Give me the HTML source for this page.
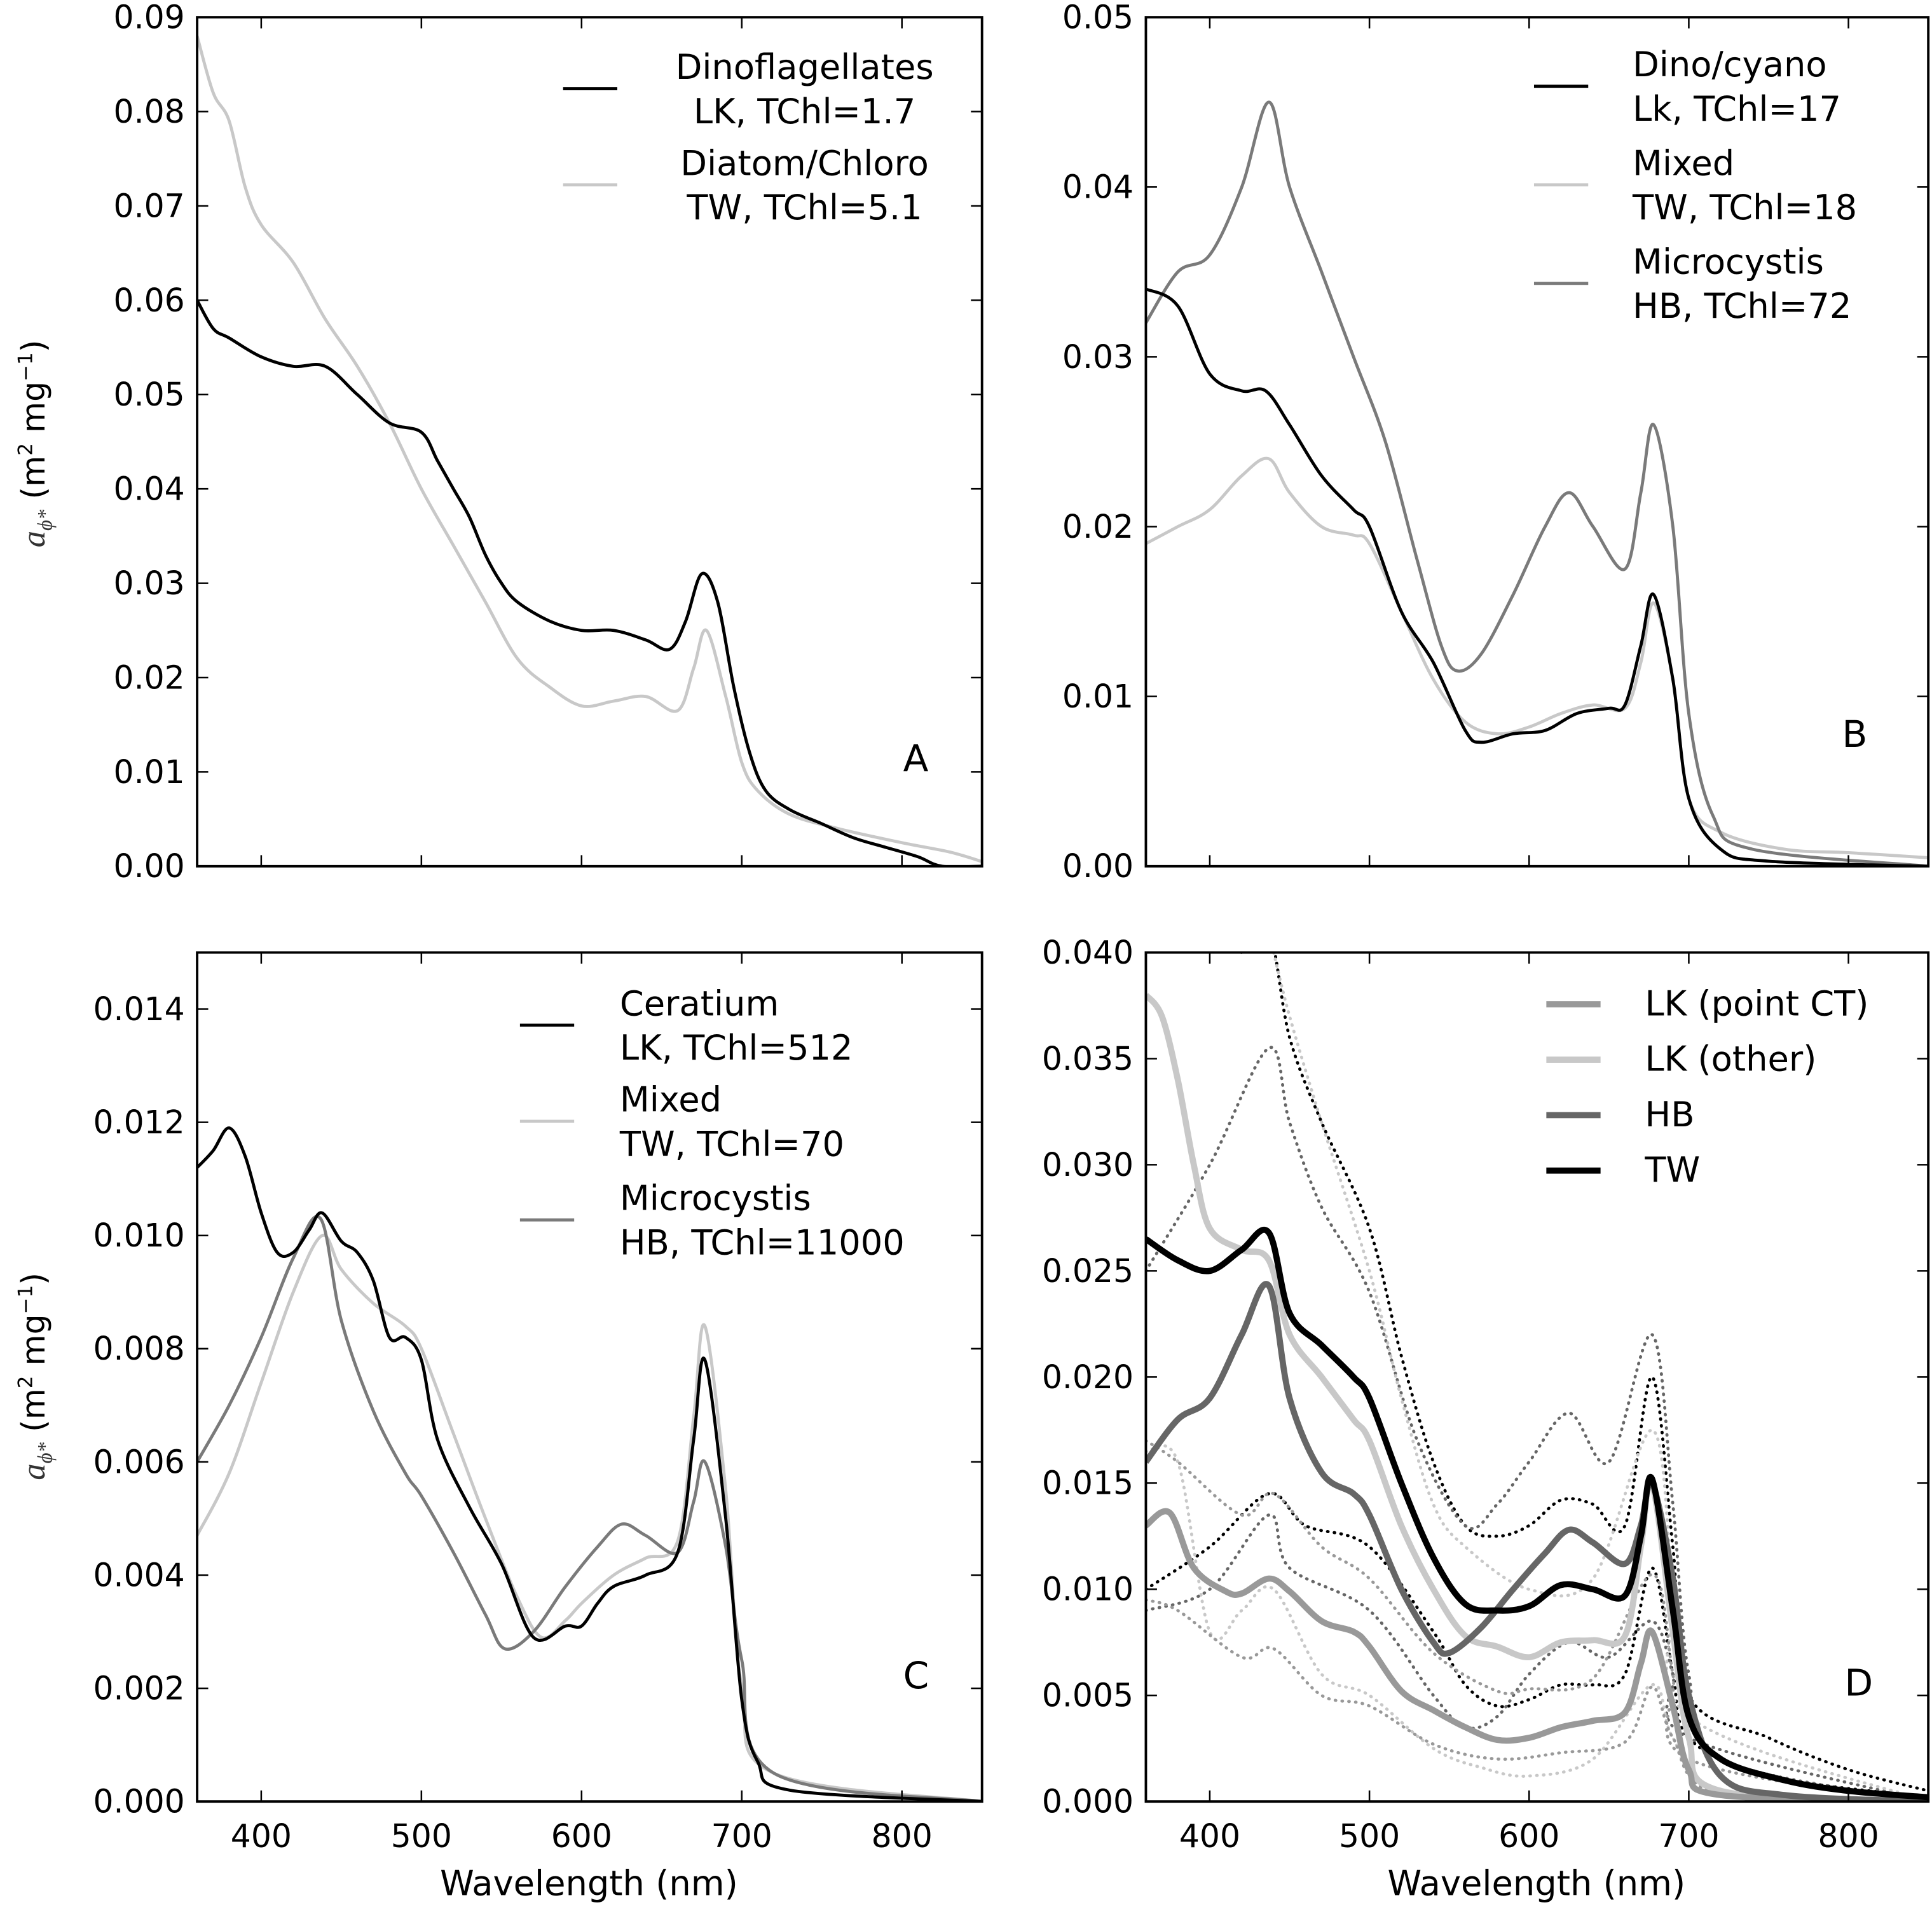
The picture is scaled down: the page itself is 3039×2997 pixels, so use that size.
<!DOCTYPE html>
<html><head><meta charset="utf-8"><style>
html,body{margin:0;padding:0;background:#fff}
svg{display:block}
text{font-family:"DejaVu Sans","Liberation Sans",sans-serif;fill:#000}
</style></head><body>
<svg id="fig" width="3039" height="2997" viewBox="0 0 1568 1546" preserveAspectRatio="none" xmlns="http://www.w3.org/2000/svg">
<rect width="1568" height="1546" fill="#fff"/>
</svg>
<script>
// ---- Panel A data ----
const wlA1=[360,370,380,400,420,440,460,480,500,510,520,530,540,550,560,580,600,620,640,655,665,675,685,695,705,715,730,750,770,790,810,825,850];
const vA1=[0.060,0.057,0.056,0.054,0.053,0.053,0.050,0.047,0.046,0.043,0.040,0.037,0.033,0.030,0.028,0.026,0.025,0.025,0.024,0.023,0.026,0.031,0.028,0.019,0.012,0.008,0.006,0.0045,0.003,0.002,0.001,0.0,0.0];
const wlA2=[360,370,380,390,400,420,440,460,480,500,520,540,560,580,600,620,640,660,670,678,690,700,710,730,760,800,830,850];
const vA2=[0.088,0.082,0.079,0.072,0.068,0.064,0.058,0.053,0.047,0.040,0.034,0.028,0.022,0.019,0.017,0.0175,0.018,0.0165,0.021,0.025,0.018,0.011,0.008,0.0055,0.004,0.0025,0.0015,0.0005];
// ---- Panel B data ----
const wlB1=[360,380,400,420,435,450,470,490,500,520,540,560,570,590,610,630,650,660,670,678,690,700,720,750,850];
const vB1=[0.034,0.033,0.029,0.028,0.028,0.026,0.023,0.021,0.020,0.015,0.012,0.008,0.0073,0.0078,0.008,0.009,0.0093,0.0095,0.013,0.016,0.011,0.004,0.001,0.0003,0];
const wlB2=[360,380,400,420,437,450,470,490,500,520,540,560,580,600,620,640,660,670,678,690,700,720,760,800,850];
const vB2=[0.019,0.020,0.021,0.023,0.024,0.022,0.020,0.0195,0.019,0.015,0.011,0.0085,0.0078,0.0082,0.009,0.0095,0.0093,0.012,0.0155,0.011,0.004,0.002,0.001,0.0008,0.0005];
const wlB3=[360,380,400,420,437,450,470,490,510,530,545,555,570,590,610,625,640,660,670,678,690,700,715,740,850];
const vB3=[0.032,0.035,0.036,0.040,0.045,0.040,0.035,0.030,0.025,0.018,0.013,0.0115,0.0125,0.016,0.020,0.022,0.020,0.0175,0.022,0.026,0.020,0.009,0.003,0.001,0];
// ---- Panel C data ----
const wlC1=[360,370,380,390,400,410,420,430,438,450,460,470,480,490,500,510,530,550,570,590,600,610,620,640,660,670,677,690,700,710,730,850];
const vC1=[0.0112,0.0115,0.0119,0.0114,0.0104,0.0097,0.0097,0.0101,0.0104,0.0099,0.0097,0.0092,0.0082,0.0082,0.0078,0.0064,0.0052,0.0042,0.0029,0.0031,0.0031,0.0035,0.0038,0.0040,0.0044,0.0064,0.0078,0.0050,0.0018,0.0007,0.0002,0];
const wlC2=[360,380,400,420,438,450,470,490,500,520,540,560,575,590,600,620,640,660,670,677,690,700,720,850];
const vC2=[0.0047,0.0058,0.0074,0.0090,0.0100,0.0094,0.0088,0.0084,0.0080,0.0065,0.0050,0.0036,0.0029,0.0032,0.0035,0.0040,0.0043,0.0046,0.0068,0.0084,0.0055,0.002,0.0005,0];
const wlC3=[360,380,400,420,437,450,470,490,500,520,540,552,570,590,610,625,640,660,670,677,690,700,720,850];
const vC3=[0.0060,0.0070,0.0082,0.0096,0.0103,0.0085,0.0069,0.0058,0.0054,0.0044,0.0033,0.0027,0.0030,0.0038,0.0045,0.0049,0.0047,0.0044,0.0053,0.0060,0.0045,0.0025,0.0005,0];
// ---- Panel D data ----
const wlD1=[360,375,390,410,420,437,450,470,490,500,520,540,560,580,600,620,640,660,670,677,690,700,720,850];
const vD1=[0.013,0.0136,0.011,0.0099,0.0098,0.0105,0.0099,0.0085,0.0080,0.0073,0.0052,0.0043,0.0035,0.0029,0.0030,0.0035,0.0038,0.0042,0.0065,0.0080,0.0045,0.0015,0.0003,0];
const wlD2=[360,370,380,390,400,420,437,450,470,490,500,520,540,560,580,600,620,640,660,670,677,690,700,720,850];
const vD2=[0.038,0.037,0.034,0.030,0.027,0.026,0.0255,0.022,0.020,0.018,0.017,0.013,0.010,0.0078,0.0073,0.0068,0.0075,0.0076,0.0078,0.012,0.015,0.008,0.003,0.0005,0];
const wlD3=[360,380,400,420,437,450,470,490,500,520,540,550,570,590,610,625,640,660,670,677,690,700,720,760,850];
const vD3=[0.016,0.018,0.019,0.022,0.0243,0.019,0.0155,0.0145,0.0135,0.010,0.0075,0.0070,0.0082,0.0100,0.0117,0.0128,0.0122,0.0112,0.0130,0.015,0.0105,0.005,0.0012,0.0003,0];
const wlD4=[360,380,400,420,437,450,470,490,500,520,540,560,580,600,620,640,660,670,677,690,700,720,760,800,850];
const vD4=[0.0265,0.0255,0.025,0.026,0.0268,0.023,0.0215,0.020,0.019,0.015,0.0115,0.0093,0.0090,0.0092,0.0102,0.0100,0.0097,0.0125,0.0152,0.009,0.004,0.002,0.001,0.0005,0.0002];
// dotted envelopes
const wlD4u=[380,390,420,437,450,470,500,520,540,560,580,600,620,640,660,677,690,700,750,800,850];
const vD4u=[0.0405,0.042,0.040,0.041,0.036,0.032,0.027,0.021,0.016,0.013,0.0125,0.013,0.0142,0.014,0.013,0.020,0.012,0.005,0.003,0.0015,0.0005];
const wlD4l=[360,400,437,460,500,540,560,580,600,620,640,660,677,690,700,750,850];
const vD4l=[0.010,0.012,0.0145,0.013,0.012,0.008,0.0055,0.0045,0.0048,0.0055,0.0055,0.006,0.011,0.006,0.003,0.0012,0.0002];
const wlD3u=[360,400,437,450,470,500,530,560,580,600,625,650,677,690,700,720,850];
const vD3u=[0.025,0.030,0.0355,0.032,0.028,0.024,0.017,0.013,0.014,0.016,0.0183,0.016,0.022,0.014,0.006,0.002,0];
const wlD3l=[360,400,437,450,500,540,560,580,600,625,650,677,690,700,850];
const vD3l=[0.009,0.010,0.0135,0.011,0.009,0.005,0.0035,0.004,0.006,0.0075,0.0068,0.0085,0.006,0.003,0];
const wlD2u=[440,450,470,500,520,540,560,600,640,677,690,700,850];
const vD2u=[0.040,0.037,0.032,0.025,0.019,0.014,0.012,0.010,0.0105,0.0175,0.010,0.004,0];
const wlD2l=[360,380,400,420,440,470,500,540,570,600,640,677,690,720,850];
const vD2l=[0.0165,0.016,0.008,0.009,0.010,0.006,0.005,0.0025,0.0016,0.0012,0.0020,0.0055,0.003,0.0005,0];
const wlD1u=[360,380,420,440,470,500,540,580,600,640,677,690,700,850];
const vD1u=[0.017,0.016,0.0135,0.0145,0.012,0.0105,0.007,0.0052,0.0053,0.0058,0.0107,0.006,0.002,0];
const wlD1l=[360,380,420,440,470,500,540,580,620,660,677,690,720,850];
const vD1l=[0.0095,0.009,0.0068,0.0072,0.005,0.0045,0.0027,0.0020,0.0023,0.0028,0.0054,0.003,0.0003,0];
const xTicks=[400,500,600,700,800];
const yTicksA=[0,0.01,0.02,0.03,0.04,0.05,0.06,0.07,0.08,0.09];
const yTicksB=[0,0.01,0.02,0.03,0.04,0.05];
const yTicksC=[0,0.002,0.004,0.006,0.008,0.010,0.012,0.014];
const yTicksD=[0,0.005,0.010,0.015,0.020,0.025,0.030,0.035,0.040];

const NS="http://www.w3.org/2000/svg";
const svg=document.getElementById('fig');
function el(tag,attrs,parent){const e=document.createElementNS(NS,tag);for(const k in attrs)e.setAttribute(k,attrs[k]);(parent||svg).appendChild(e);return e;}

function panel(id,x0,x1,y0,y1,ymax,yTicks,dec,showX){
  const g=el('g',{});
  
  
  const clipId='clip'+id;
  const cp=el('clipPath',{id:clipId},g);el('rect',{x:x0,y:y0,width:x1-x0,height:y1-y0},cp);
  const sx=w=>x0+(w-360)/(850-360)*(x1-x0);
  const sy=v=>y1-v/ymax*(y1-y0);
  const plot=el('g',{'clip-path':'url(#'+clipId+')'},g);
  const ax={g,plot,sx,sy};
  xTicks.forEach(t=>{
    const x=sx(t);
    const tk=el('path',{d:`M${x},${y1}v-9M${x},${y0}v9`,stroke:'#000','stroke-width':1.3},g);
    
    
    if(showX){const tl=el('text',{x:x,y:y1+37,'font-size':26,'text-anchor':'middle'},g);tl.textContent=t;
      
      }
  });
  yTicks.forEach(t=>{
    const y=sy(t);
    const tk=el('path',{d:`M${x0},${y}h9M${x1},${y}h-9`,stroke:'#000','stroke-width':1.3},g);
    
    
    const tl=el('text',{x:x0-10,y:y+9,'font-size':26,'text-anchor':'end'},g);tl.textContent=t.toFixed(dec);
    
    
  });
  return ax;
}
function smoothPath(P){
  let d=`M${P[0][0].toFixed(1)},${P[0][1].toFixed(1)}`;
  for(let i=0;i<P.length-1;i++){
    const p0=P[i-1]||P[i],p1=P[i],p2=P[i+1],p3=P[i+2]||P[i+1];
    const c1=[p1[0]+(p2[0]-p0[0])/6,p1[1]+(p2[1]-p0[1])/6];
    const c2=[p2[0]-(p3[0]-p1[0])/6,p2[1]-(p3[1]-p1[1])/6];
    d+=`C${c1[0].toFixed(1)},${c1[1].toFixed(1)} ${c2[0].toFixed(1)},${c2[1].toFixed(1)} ${p2[0].toFixed(1)},${p2[1].toFixed(1)}`;
  }
  return d;
}
function series(ax,wl,v,color,w,name,dash){
  const P=wl.map((q,i)=>[ax.sx(q),ax.sy(v[i])]);
  const p=el('path',{d:smoothPath(P),fill:'none',stroke:color,'stroke-width':w,'stroke-linejoin':'round'},ax.plot);
  if(dash){p.setAttribute('stroke-dasharray',dash);p.setAttribute('stroke-linecap','round');}
  
  
}
function frame(ax,x0,x1,y0,y1){
  const r=el('rect',{x:x0,y:y0,width:x1-x0,height:y1-y0,fill:'none',stroke:'#000','stroke-width':2},ax.g);
  
  
}
function legendEntry(g,lx,ly,color,w,lines,tx,anchor,fs){
  const e=el('g',{},g);
  
  
  el('line',{x1:lx,x2:lx+44,y1:ly,y2:ly,stroke:color,'stroke-width':w},e);
  lines.forEach((s,i)=>{const t=el('text',{x:tx,y:ly-8+i*36+(lines.length>1?0:17),'font-size':fs||28,'text-anchor':anchor,'xml:space':'preserve'},e);t.textContent=s;});
}
function letter(g,x,y,s){const t=el('text',{x,y,'font-size':30},g);t.textContent=s;
  
  }
function ylabel(cx,cy){
  const t=el('text',{transform:`translate(${cx},${cy}) rotate(-90)`,'font-size':26,'text-anchor':'middle'});
  
  
  t.innerHTML='<tspan font-family="Liberation Serif" font-style="italic" font-size="27" fill="#333">a</tspan><tspan font-size="17" dy="6" font-family="Liberation Serif" font-style="italic" fill="#333">ϕ*</tspan><tspan dy="-6"> (m</tspan><tspan font-size="16" dy="-10">2</tspan><tspan dy="10"> mg</tspan><tspan font-size="16" dy="-10">−1</tspan><tspan dy="10">)</tspan>';
}
function xlabel(cx,y){const t=el('text',{x:cx,y,'font-size':28,'text-anchor':'middle'});t.textContent='Wavelength (nm)';
  
  }

// Panel A
let a=panel('a',160,797,14,703,0.09,yTicksA,2,false);
series(a,wlA2,vA2,'#c8c8c8',2.5,'diatom-chloro-line');
series(a,wlA1,vA1,'#000',2.5,'dinoflagellates-line');
frame(a,160,797,14,703);
legendEntry(a.g,457,72,'#000',2.5,['Dinoflagellates','LK, TChl=1.7'],653,'middle');
legendEntry(a.g,457,150,'#c8c8c8',2.5,['Diatom/Chloro','TW, TChl=5.1'],653,'middle');
letter(a.g,733,626,'A');
ylabel(36,360);

// Panel B
let b=panel('b',930,1565,14,703,0.05,yTicksB,2,false);
series(b,wlB2,vB2,'#c8c8c8',2.5,'mixed-line');
series(b,wlB3,vB3,'#7a7a7a',2.5,'microcystis-line');
series(b,wlB1,vB1,'#000',2.5,'dino-cyano-line');
frame(b,930,1565,14,703);
legendEntry(b.g,1245,70,'#000',2.5,['Dino/cyano',' Lk, TChl=17'],1325,'start');
legendEntry(b.g,1245,150,'#c8c8c8',2.5,['Mixed',' TW, TChl=18'],1325,'start');
legendEntry(b.g,1245,230,'#7a7a7a',2.5,['Microcystis',' HB, TChl=72'],1325,'start');
letter(b.g,1495,606,'B');

// Panel C
let c=panel('c',160,797,773,1462,0.015,yTicksC,3,true);
series(c,wlC2,vC2,'#c8c8c8',2.5,'mixed-line');
series(c,wlC3,vC3,'#7a7a7a',2.5,'microcystis-line');
series(c,wlC1,vC1,'#000',2.5,'ceratium-line');
frame(c,160,797,773,1462);
legendEntry(c.g,422,832,'#000',2.5,['Ceratium',' LK, TChl=512'],503,'start');
legendEntry(c.g,422,910,'#c8c8c8',2.5,['Mixed',' TW, TChl=70'],503,'start');
legendEntry(c.g,422,990,'#7a7a7a',2.5,['Microcystis',' HB, TChl=11000'],503,'start');
letter(c.g,733,1370,'C');
ylabel(36,1117);
xlabel(478,1538);

// Panel D
let d=panel('d',930,1565,773,1462,0.04,yTicksD,3,true);
const dash='0.5 5';
series(d,wlD4u,vD4u,'#000',2.5,'tw-upper-dotted',dash);
series(d,wlD4l,vD4l,'#000',2.5,'tw-lower-dotted',dash);
series(d,wlD3u,vD3u,'#666',2.5,'hb-upper-dotted',dash);
series(d,wlD3l,vD3l,'#666',2.5,'hb-lower-dotted',dash);
series(d,wlD2u,vD2u,'#c8c8c8',2.5,'lk-other-upper-dotted',dash);
series(d,wlD2l,vD2l,'#c8c8c8',2.5,'lk-other-lower-dotted',dash);
series(d,wlD1u,vD1u,'#999',2.5,'lk-point-upper-dotted',dash);
series(d,wlD1l,vD1l,'#999',2.5,'lk-point-lower-dotted',dash);
series(d,wlD2,vD2,'#c8c8c8',5,'lk-other-line');
series(d,wlD1,vD1,'#999',5,'lk-point-ct-line');
series(d,wlD3,vD3,'#666',5,'hb-line');
series(d,wlD4,vD4,'#000',5,'tw-line');
frame(d,930,1565,773,1462);
legendEntry(d.g,1255,815,'#999',5,['LK (point CT)'],1335,'start');
legendEntry(d.g,1255,860,'#c8c8c8',5,['LK (other)'],1335,'start');
legendEntry(d.g,1255,905,'#666',5,['HB'],1335,'start');
legendEntry(d.g,1255,950,'#000',5,['TW'],1335,'start');
letter(d.g,1497,1376,'D');
xlabel(1247,1538);
</script>
</body></html>
